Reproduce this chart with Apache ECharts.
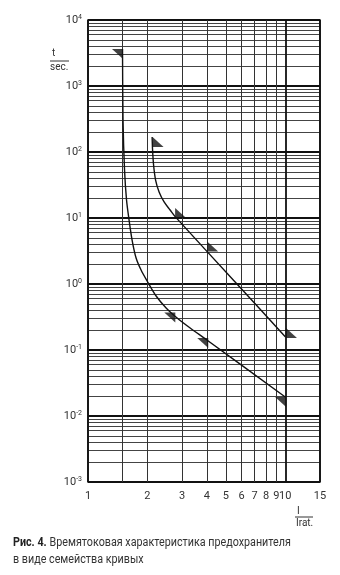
<!DOCTYPE html>
<html><head><meta charset="utf-8">
<script src="https://cdn.jsdelivr.net/npm/echarts@6/dist/echarts.min.js"></script>
<style>html,body{margin:0;padding:0;background:#fff}#c{width:340px;height:575px}</style>
</head><body><div id="c"></div>
<script>
// ---- data ----
const xLabelValues = [1, 2, 3, 4, 5, 6, 7, 8, 9, 10, 15];
const xMinorGrid = [1.5, 2, 3, 4, 5, 6, 7, 8, 9];
const yDecades = [0.001, 0.01, 0.1, 1, 10, 100, 1000, 10000];
const yExponents = ['-3', '-2', '-1', '0', '1', '2', '3', '4'];
const yMinorMultipliers = [2, 3, 4, 5, 6, 7, 8, 9];

// curve 1 (left family member)
const curve1I = [1.496, 1.505, 1.532, 1.568, 1.615, 1.673, 1.753, 1.858, 1.994, 2.215, 2.489, 2.83, 3.295, 4.005, 10.0];
const curve1T = [3636, 305, 53.4, 18.7, 9.33, 4.64, 2.48, 1.63, 1.11, 0.658, 0.433, 0.305, 0.215, 0.142, 0.0194];
// curve 2 (right family member)
const curve2I = [2.114, 2.125, 2.15, 2.201, 2.293, 2.431, 2.608, 2.765, 5.69, 10.0];
const curve2T = [169, 107, 63.5, 37.6, 24.8, 17.5, 13.2, 10.5, 1.0, 0.159];
// triangle markers
const marks1I = [1.505, 2.77, 4.07, 10.1];
const marks1T = [3640, 0.37, 0.152, 0.0194];
const marks2I = [2.125, 2.765, 4.02, 10.08];
const marks2T = [119, 10.0, 3.1, 0.152];

const yMinorValues = [];
yDecades.slice(0, -1).forEach(d => yMinorMultipliers.forEach(m => yMinorValues.push(+(d * m).toPrecision(3))));

const pairs = (a, b) => a.map((v, i) => [v, b[i]]);
const expOf = v => yExponents[yDecades.findIndex(d => Math.abs(Math.log10(d) - Math.log10(v)) < 1e-6)];

const chart = echarts.init(document.getElementById('c'));
const FONT = 'Roboto, "Liberation Sans", sans-serif';
const CAP = 'Roboto, "Liberation Sans", sans-serif';
chart.setOption({
  animation: false,
  backgroundColor: '#fff',
  grid: { left: 88, top: 20, width: 232, height: 462, show: true, borderColor: '#222', borderWidth: 1.5, backgroundColor: 'transparent' },
  xAxis: [
    { type: 'log', logBase: 10, min: 1, max: 15, gridIndex: 0,
      axisLine: { show: false }, axisTick: { show: false },
      splitLine: { show: true, lineStyle: { color: '#111', width: 1.8 } },
      axisLabel: { customValues: xLabelValues, formatter: v => String(Math.round(v)), color: '#333', fontSize: 11, fontFamily: FONT, margin: 9, showMinLabel: true, showMaxLabel: true, hideOverlap: false } },
    { type: 'log', logBase: 10, min: 1, max: 15, gridIndex: 0,
      axisLine: { show: false }, axisLabel: { show: false },
      axisTick: { show: false, customValues: xMinorGrid },
      splitLine: { show: true, lineStyle: { color: '#333', width: 1 } } }
  ],
  yAxis: [
    { type: 'log', logBase: 10, min: 0.001, max: 10000, gridIndex: 0,
      axisLine: { show: false }, axisTick: { show: false },
      splitLine: { show: true, lineStyle: { color: '#111', width: 1.8 } },
      axisLabel: { formatter: v => '{b|10}{s|' + expOf(v) + '}', margin: 6,
        rich: { b: { fontSize: 11, color: '#333', fontFamily: FONT }, s: { fontSize: 7, color: '#333', fontFamily: FONT, verticalAlign: 'top', padding: [0, 0, 5, 0] } } } },
    { type: 'log', logBase: 10, min: 0.001, max: 10000, gridIndex: 0,
      axisLine: { show: false }, axisLabel: { show: false },
      axisTick: { show: false, customValues: yMinorValues },
      splitLine: { show: true, lineStyle: { color: '#444', width: 1 } } }
  ],
  series: [
    { type: 'line', data: pairs(curve1I, curve1T), showSymbol: false, smooth: 0.3, lineStyle: { color: '#111', width: 1.4 }, z: 5 },
    { type: 'line', data: pairs(curve2I, curve2T), showSymbol: false, smooth: 0.3, lineStyle: { color: '#111', width: 1.4 }, z: 5 },
    { type: 'scatter', data: pairs(marks1I, marks1T), symbol: 'path://M0 0L10 0L10 10Z', symbolSize: [11, 10], symbolOffset: [-5.5, 5], itemStyle: { color: '#111' }, z: 6 },
    { type: 'scatter', data: pairs(marks2I, marks2T), symbol: 'path://M0 0L0 10L10 10Z', symbolSize: [11, 10], symbolOffset: [5.5, -5], itemStyle: { color: '#111' }, z: 6 }
  ],
  graphic: [
    { type: 'text', left: 52, top: 48, style: { text: 't', fontSize: 10, fill: '#333', fontFamily: FONT } },
    { type: 'line', shape: { x1: 50, y1: 61, x2: 69, y2: 61 }, style: { stroke: '#333', lineWidth: 1 } },
    { type: 'text', left: 50, top: 62, style: { text: 'sec.', fontSize: 10, fill: '#333', fontFamily: FONT } },
    { type: 'text', left: 297, top: 506, style: { text: 'I', fontSize: 10, fill: '#333', fontFamily: FONT } },
    { type: 'line', shape: { x1: 295, y1: 517, x2: 313, y2: 517 }, style: { stroke: '#333', lineWidth: 1 } },
    { type: 'text', left: 296, top: 518, style: { text: 'Irat.', fontSize: 10, fill: '#333', fontFamily: FONT } },
    { type: 'text', left: 13, top: 536, scaleX: 0.86, style: { text: '{b|Рис. 4.} {n|Времятоковая характеристика предохранителя}', rich: { b: { fontWeight: 'bold', fontSize: 12.5, fill: '#222', fontFamily: CAP }, n: { fontSize: 12.5, fill: '#333', fontFamily: CAP } } } },
    { type: 'text', left: 13, top: 553, scaleX: 0.86, style: { text: 'в виде семейства кривых', fontSize: 12.5, fill: '#333', fontFamily: CAP } }
  ]
});
</script></body></html>
